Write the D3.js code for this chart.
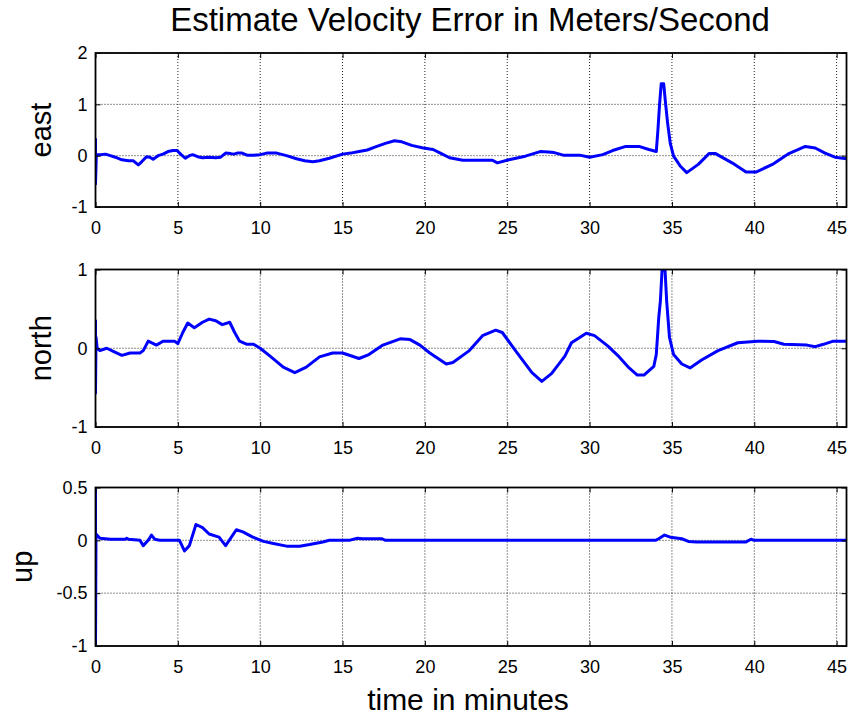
<!DOCTYPE html>
<html>
<head>
<meta charset="utf-8">
<script src="https://cdn.jsdelivr.net/npm/d3@7"></script>
<style>
  html, body { margin: 0; padding: 0; background: #fff; }
  svg { display: block; font-family: "Liberation Sans", Arial, sans-serif; }
</style>
</head>
<body>
<svg id="chart" width="852" height="717"></svg>
<script>
// ---- data: velocity error (m/s) against time (minutes) ----
const xTicks = [0, 5, 10, 15, 20, 25, 30, 35, 40, 45];
const xTickLabels = ["0", "5", "10", "15", "20", "25", "30", "35", "40", "45"];

const eastTicks = [-1, 0, 1, 2];
const eastTickLabels = ["-1", "0", "1", "2"];
const northTicks = [-1, 0, 1];
const northTickLabels = ["-1", "0", "1"];
const upTicks = [-1, -0.5, 0, 0.5];
const upTickLabels = ["-1", "-0.5", "0", "0.5"];

const eastSeries = [
  [0,0.32],[0,-0.55],[0.05,0.02],[0.3,0.02],[0.6,0.03],[0.9,0.0],[1.2,-0.03],[1.6,-0.08],[2.0,-0.1],[2.3,-0.1],
  [2.6,-0.18],[2.8,-0.12],[3.1,-0.02],[3.3,-0.03],[3.5,-0.07],[3.8,0.0],[4.1,0.03],[4.4,0.08],[4.7,0.1],[4.95,0.1],
  [5.2,0.02],[5.45,-0.05],[5.7,0.0],[5.9,0.02],[6.2,-0.02],[6.5,-0.04],[6.9,-0.03],[7.3,-0.04],[7.6,-0.03],[7.9,0.05],
  [8.2,0.04],[8.4,0.03],[8.6,0.05],[8.9,0.05],[9.2,0.01],[9.6,0.01],[10.0,0.02],[10.4,0.05],[11.0,0.05],[11.6,0.0],
  [12.2,-0.06],[12.7,-0.1],[13.2,-0.12],[13.6,-0.1],[14.2,-0.05],[15.0,0.03],[15.5,0.05],[16.0,0.08],[16.5,0.11],[17.0,0.17],
  [17.6,0.24],[18.15,0.29],[18.6,0.27],[19.2,0.2],[19.9,0.15],[20.5,0.12],[21.0,0.04],[21.5,-0.04],[22.3,-0.09],[23.0,-0.09],
  [24.1,-0.09],[24.4,-0.14],[25.1,-0.08],[26.1,-0.01],[26.6,0.04],[27.0,0.08],[27.5,0.07],[27.85,0.06],[28.4,0.01],[29.4,0.01],
  [30.0,-0.03],[30.8,0.02],[31.4,0.1],[32.2,0.18],[33.0,0.18],[33.6,0.12],[34.05,0.08],[34.15,0.5],[34.25,1.0],[34.35,1.4],
  [34.5,1.4],[34.62,1.0],[34.74,0.63],[34.9,0.24],[35.1,-0.01],[35.5,-0.2],[35.9,-0.33],[36.6,-0.17],[37.25,0.04],[37.65,0.04],
  [38.65,-0.14],[39.5,-0.32],[40.1,-0.32],[41.1,-0.17],[42.1,0.04],[43.1,0.18],[43.7,0.15],[44.3,0.05],[44.9,-0.03],[45.6,-0.06]
];

const northSeries = [
  [0,0.35],[0,-0.57],[0.03,0.14],[0.1,0.0],[0.27,-0.03],[0.68,0.0],[1.08,-0.04],[1.6,-0.09],[2.1,-0.06],[2.7,-0.06],
  [2.9,-0.03],[3.2,0.09],[3.7,0.04],[4.1,0.09],[4.8,0.09],[5.0,0.06],[5.3,0.2],[5.6,0.32],[6.0,0.26],[6.5,0.33],
  [6.9,0.37],[7.3,0.35],[7.7,0.3],[8.15,0.33],[8.45,0.2],[8.75,0.09],[9.2,0.05],[9.6,0.05],[10.0,0.0],[10.6,-0.1],
  [11.4,-0.24],[12.1,-0.31],[12.8,-0.24],[13.6,-0.11],[14.4,-0.06],[15.0,-0.06],[16.0,-0.13],[16.6,-0.08],[17.45,0.04],[18.5,0.12],
  [19.1,0.11],[19.7,0.04],[20.3,-0.06],[21.3,-0.2],[21.7,-0.18],[22.7,-0.03],[23.5,0.16],[24.3,0.23],[24.7,0.2],[25.5,-0.03],
  [26.5,-0.31],[27.1,-0.42],[27.7,-0.32],[28.5,-0.1],[28.9,0.07],[29.8,0.19],[30.3,0.16],[31.1,0.03],[31.8,-0.11],[32.4,-0.25],
  [32.9,-0.34],[33.3,-0.34],[33.9,-0.23],[34.05,-0.08],[34.2,0.39],[34.3,0.6],[34.4,0.99],[34.58,1.0],[34.68,0.6],[34.85,0.14],
  [35.1,-0.08],[35.6,-0.2],[36.1,-0.25],[36.8,-0.15],[37.8,-0.03],[39.0,0.07],[40.2,0.09],[41.2,0.085],[41.8,0.05],[43.2,0.04],
  [43.7,0.02],[44.2,0.05],[44.8,0.09],[45.6,0.09]
];

const upSeries = [
  [0,0.5],[0,-1.0],[0.03,0.06],[0.27,0.02],[0.9,0.01],[1.8,0.01],[1.9,0.02],[2.0,0.01],[2.7,0.0],[2.9,-0.05],
  [3.2,0.0],[3.4,0.05],[3.6,0.01],[3.9,0.0],[5.1,0.0],[5.4,-0.1],[5.7,-0.05],[6.1,0.15],[6.5,0.12],[6.9,0.06],
  [7.5,0.03],[7.9,-0.05],[8.25,0.03],[8.55,0.1],[8.95,0.08],[9.55,0.03],[10.2,-0.01],[10.8,-0.03],[11.6,-0.055],[12.4,-0.055],
  [13.0,-0.04],[13.8,-0.015],[14.2,0.0],[15.4,0.0],[15.9,0.02],[16.2,0.015],[17.4,0.015],[17.6,0.0],[34.0,0.0],[34.2,0.015],
  [34.55,0.05],[34.9,0.03],[35.6,0.015],[36.0,-0.01],[36.5,-0.015],[39.5,-0.015],[39.8,0.01],[40.0,0.0],[45.6,0.0]
];

// ---- layout ----
const svg = d3.select("#chart");
const xDomain = [0, 45.6];
const x = d3.scaleLinear().domain(xDomain).range([95.5, 846.5]);

const panels = [
  { label: "east",  series: eastSeries,  domain: [-1, 2],   ticks: eastTicks,  tickLabels: eastTickLabels,  top: 53,    bottom: 207, labelX: 51 },
  { label: "north", series: northSeries, domain: [-1, 1],   ticks: northTicks, tickLabels: northTickLabels, top: 269.5, bottom: 427, labelX: 51 },
  { label: "up",    series: upSeries,    domain: [-1, 0.5], ticks: upTicks,    tickLabels: upTickLabels,    top: 487.5, bottom: 646, labelX: 32 }
];

const tickFont = "18px";
const gridStyle = g => g.attr("stroke", "#222").attr("stroke-width", 1).attr("stroke-dasharray", "1,2").attr("fill", "none");

panels.forEach((p, i) => {
  const y = d3.scaleLinear().domain(p.domain).range([p.bottom, p.top]);
  const g = svg.append("g");
  const [x0, x1] = x.range();

  // dotted grid
  const grid = g.append("g").call(gridStyle);
  grid.selectAll("line.v").data(xTicks).join("line")
    .attr("x1", d => x(d)).attr("x2", d => x(d))
    .attr("y1", p.top).attr("y2", p.bottom);
  grid.selectAll("line.h").data(p.ticks).join("line")
    .attr("x1", x0).attr("x2", x1)
    .attr("y1", d => y(d)).attr("y2", d => y(d));

  // data line, clipped to the axes box
  const clipId = "clip" + i;
  svg.append("clipPath").attr("id", clipId).append("rect")
    .attr("x", x0).attr("y", p.top).attr("width", x1 - x0).attr("height", p.bottom - p.top);
  g.append("path")
    .datum(p.series)
    .attr("clip-path", `url(#${clipId})`)
    .attr("fill", "none")
    .attr("stroke", "#0000ff")
    .attr("stroke-width", 3)
    .attr("stroke-linejoin", "round")
    .attr("stroke-linecap", "round")
    .attr("d", d3.line().x(d => x(d[0])).y(d => y(d[1])));

  // axes with inward ticks on all four sides
  const xFmt = d => xTickLabels[xTicks.indexOf(d)];
  const yFmt = d => p.tickLabels[p.ticks.indexOf(d)];

  const bottom = g.append("g").attr("transform", `translate(0,${p.bottom})`)
    .call(d3.axisBottom(x).tickValues(xTicks).tickFormat(xFmt).tickSizeInner(-5).tickSizeOuter(0).tickPadding(14));
  const top = g.append("g").attr("transform", `translate(0,${p.top})`)
    .call(d3.axisTop(x).tickValues(xTicks).tickFormat("").tickSizeInner(-5).tickSizeOuter(0));
  const left = g.append("g").attr("transform", `translate(${x0},0)`)
    .call(d3.axisLeft(y).tickValues(p.ticks).tickFormat(yFmt).tickSizeInner(-5).tickSizeOuter(0).tickPadding(8));
  const right = g.append("g").attr("transform", `translate(${x1},0)`)
    .call(d3.axisRight(y).tickValues(p.ticks).tickFormat("").tickSizeInner(-5).tickSizeOuter(0));

  [bottom, top, left, right].forEach(a => {
    a.select(".domain").remove();
    a.selectAll(".tick line").attr("stroke", "#000").attr("stroke-width", 1);
    a.selectAll("text").attr("font-size", tickFont).attr("font-family", "Liberation Sans, Arial, sans-serif").attr("fill", "#000");
  });

  // box
  g.append("rect")
    .attr("x", x0).attr("y", p.top).attr("width", x1 - x0).attr("height", p.bottom - p.top)
    .attr("fill", "none").attr("stroke", "#000").attr("stroke-width", 1.8);

  // y label
  g.append("text")
    .attr("transform", `translate(${p.labelX},${(p.top + p.bottom) / 2}) rotate(-90)`)
    .attr("text-anchor", "middle")
    .attr("font-size", "29px")
    .attr("fill", "#000")
    .text(p.label);
});

// title and x label
svg.append("text")
  .attr("x", 470).attr("y", 31)
  .attr("text-anchor", "middle")
  .attr("font-size", "33px")
  .attr("fill", "#000")
  .text("Estimate Velocity Error in Meters/Second");

svg.append("text")
  .attr("x", 468).attr("y", 710)
  .attr("text-anchor", "middle")
  .attr("font-size", "30px")
  .attr("fill", "#000")
  .text("time in minutes");
</script>
</body>
</html>
